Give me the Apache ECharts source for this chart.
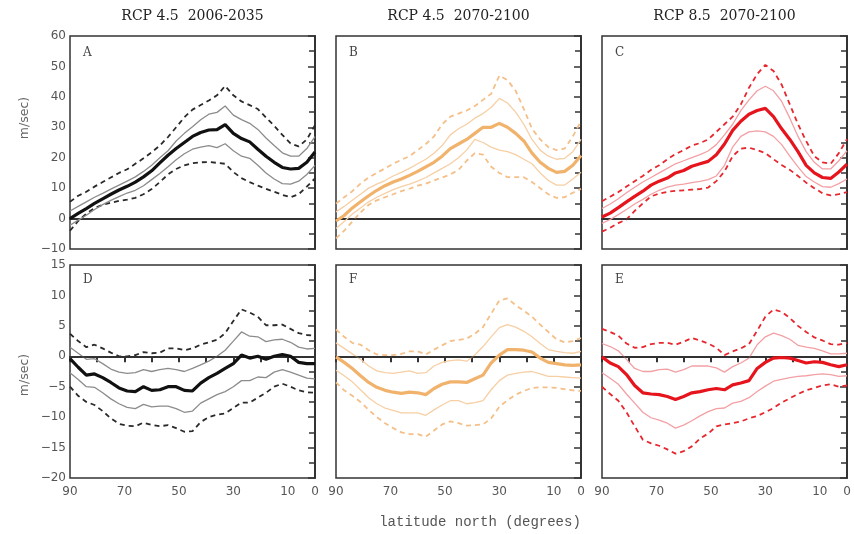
<!DOCTYPE html>
<html><head><meta charset="utf-8">
<script src="https://cdn.jsdelivr.net/npm/echarts@6/dist/echarts.min.js"></script>
<style>html,body{margin:0;padding:0;background:#fff}#c{width:854px;height:534px}</style>
</head><body><div id="c"></div><script>
// latitude (degrees north)
const lat = [90,87,84,81,78,75,72,69,66,63,60,57,54,51,48,45,42,39,36,33,30,27,24,21,18,15,12,9,6,3,0];
const xTickLabels = [90,70,50,30,10,0];
const titles = ['RCP 4.5  2006-2035','RCP 4.5  2070-2100','RCP 8.5  2070-2100'];
const panelLetters = ['A','B','C','D','F','E'];

// Panel A (RCP4.5 2006-2035, m/sec)
const aMean = [0,1.7,3.3,5,6.5,8,9.4,10.6,12,13.7,15.7,18.3,20.8,23,25,27,28.3,29.1,29.2,30.9,28,26.3,25.2,22.8,20.5,18.5,16.8,16.3,16.5,18.5,21.9];
const aUp   = [2.5,4,5.5,7,8.3,9.7,11,12.3,13.7,15.5,17.5,20,22.3,25.5,28,30.2,32.5,34.3,34.9,37,34,32.5,31.3,29.3,26.5,24,21.6,20.5,20.5,23,26.9];
const aLo   = [-2.2,-0.5,1.1,3,4.6,6,7.2,8.4,9.3,10.8,12.8,14.8,17,19.3,21.3,22.8,23.5,24,23.3,24.6,22.3,20.5,19.8,17.5,15,13,11.5,11.3,12.3,14.5,17.5];
const aUpD  = [5.5,7.5,8.8,10.5,12,13.5,15,16.2,18,19.8,21.8,24,26.8,30,33.3,35.8,37.3,38.8,40.5,43.6,40.5,38.5,37.3,36,33.2,30.5,27.5,24.7,23.7,26,30.7];
const aLoD  = [-4,-0.8,1.6,3.5,4.5,5.2,5.8,6.2,6.8,8,9.7,12,14.5,16.3,17.5,18.2,18.5,18.6,18.3,18,15.3,13.3,12,10.8,9.8,8.8,7.8,7,8,10.5,13.2];
// Panel B (RCP4.5 2070-2100)
const bMean = [-0.8,1,3.5,5.5,7.5,9.3,10.8,12,13,14.2,15.5,17,18.5,20.5,23,24.5,26,28,30,30,31.3,30,28,25.5,21.5,18.5,16.5,15.2,15.5,17.5,20.7];
const bUp   = [2.2,4,6,8,10,11.3,12.5,14,15.2,16.5,18,19.5,21.5,24,27.5,29.5,31,33,34.5,36.5,39.5,38,35,31,26,22.5,20.5,19.5,19.8,22,26];
const bLo   = [-3.3,-1,1.5,3.5,5.5,7,8.3,9.5,10.5,11.3,12.3,13.5,15,16.5,18,20,22.5,26,25,23.5,22.5,22,21,19.5,18,15,12.5,11,11,13,15.2];
const bUpD  = [4.9,7,9,11.5,13.5,15,16.5,18,19.3,20.5,22.5,24.5,27,31,33.5,34.5,35.5,37,39,41,47,45.5,42,36,29.5,26,23.5,22.5,23,27,32];
const bLoD  = [-6.5,-4,-1,2,4.5,6,7,8,9,9.8,10.8,11.5,12.5,13.5,14.5,16,19,21.5,21,17,15,13.6,13.6,13.6,12,10,8,6.8,7,8.5,9.8];
// Panel C (RCP8.5 2070-2100)
const cMean = [0.5,1.8,3.6,5.5,7.3,9,11,12.3,13.3,15,15.8,17.2,18,18.8,21,24.5,29,32,34.3,35.5,36.2,33.5,29.5,26,22,17.5,15,13.5,13.2,15.3,17.9];
const cUp   = [3.3,4.8,6.5,8.5,10.3,12,13.5,15,16.5,18,19,20,21,22.2,24.3,27.5,31,35.5,39,42,43.5,42,38.5,33,27,22,18.5,16.3,16.3,19,22.3];
const cLo   = [-1.6,-0.3,1.3,3,4.8,6.3,8,9.3,10.3,11,11.3,11.8,12.2,12.8,14,17.5,23.5,27,28.5,28.8,28.5,27,24.3,20.5,17,13.8,12,10.5,10.3,11.5,13];
const cUpD  = [5.7,7.2,8.7,10.5,12.3,14,16,17.5,19.5,21.2,22.5,24,24.8,26,28.5,31,33.5,37.5,43,47.5,50.5,48.5,44,37.5,31,25.5,20.5,18.5,18,21.5,26.1];
const cLoD  = [-4.3,-3,-1.5,-0.3,2.5,5,7.3,8.2,8.8,9.1,9.3,9.5,9.7,10.2,12.3,15.5,20.5,23,23.3,22.5,21.5,19.5,17.6,16,14,11.8,10,8.3,7.6,8,8.7];
// Panel D (change, RCP4.5 2006-2035)
const dMean = [-0.4,-1.8,-3.1,-2.9,-3.5,-4.3,-5.2,-5.7,-5.8,-5,-5.6,-5.5,-5,-5,-5.6,-5.7,-4.4,-3.5,-2.8,-2,-1.2,0.2,-0.3,0,-0.5,0,0.3,0,-1,-1.2,-1.2];
const dUp   = [1.5,0.5,-0.5,-0.4,-1.2,-2.1,-2.6,-2.8,-2.7,-2.2,-2.5,-2.2,-2,-2.2,-2.5,-2,-1.4,-0.8,0,1,2.5,4,3.3,3.2,2.4,2.7,2.8,2.3,1.5,1.2,1.3];
const dLo   = [-2.7,-3.8,-5,-5.1,-6,-7,-7.8,-8.4,-8.6,-7.9,-8.3,-8.2,-8.2,-8.6,-9.2,-9,-7.7,-7,-6.3,-5.8,-5,-4,-4,-3.4,-3.5,-2.6,-2.2,-2.6,-3.1,-3.6,-3.7];
const dUpD  = [3.7,2.5,1.5,1.9,1.3,0.6,0,0,0.2,0.7,0.5,0.6,1.3,1.3,1,1.3,1.9,2.3,2.7,3.8,5.8,7.7,7.2,6.5,5.1,5.1,5.2,4.5,3.8,3.5,3.4];
const dLoD  = [-5,-6.5,-7.5,-8,-9,-10.2,-11.1,-11.4,-11.5,-10.9,-11.3,-11.5,-11.3,-11.8,-12.4,-12.3,-10.8,-10,-9.6,-9.4,-8.5,-7.6,-7.6,-6.8,-6,-5,-4.5,-5,-5.6,-5.9,-6];
// Panel F (change, RCP4.5 2070-2100)
const fMean = [-0.1,-1,-2,-3.2,-4.3,-5.1,-5.6,-5.9,-6.1,-5.9,-6,-6.3,-5.3,-4.6,-4.2,-4.2,-4.3,-3.7,-3.1,-1.1,0.2,1.1,1.1,1,0.7,-0.3,-1,-1.2,-1.4,-1.5,-1.4];
const fUp   = [2.2,1.3,0.4,-0.5,-1.6,-2.4,-2.7,-2.8,-2.6,-2.4,-2.8,-2.7,-1.6,-1,-0.7,-0.6,-0.8,0.2,1.6,3.2,4.7,5.2,4.8,4.1,3.2,2.1,1.1,0.8,0.6,0.5,0.8];
const fLo   = [-2.3,-3.2,-4.2,-5.5,-6.8,-7.8,-8.5,-8.9,-9.3,-9.3,-9.3,-9.7,-8.8,-8,-7.3,-7.3,-7.8,-7.6,-7.3,-5.5,-4,-3.1,-2.8,-2.6,-2.5,-2.9,-3.3,-3.3,-3.4,-3.5,-3.6];
const fUpD  = [4.4,3.2,2.2,1.9,1,0.3,0.2,0.2,0.4,0.8,0.8,0.3,1.1,1.8,2.5,2.7,2.9,3.7,4.8,7,9.2,9.5,8.4,7.5,6.5,5.2,4,2.8,2.3,2.5,3];
const fLoD  = [-4.3,-5.6,-6.5,-7.5,-8.8,-10,-11,-11.8,-12.5,-12.8,-12.8,-13.2,-12.2,-11.2,-10.7,-11,-11.4,-11.3,-11.2,-10.2,-8.3,-7.2,-6.3,-5.7,-5.2,-5.1,-5.1,-5.2,-5.4,-5.6,-5.7];
// Panel E (change, RCP8.5 2070-2100)
const eMean = [-0.1,-1.1,-1.7,-3,-4.8,-6,-6.2,-6.3,-6.6,-7.1,-6.6,-6,-5.8,-5.5,-5.3,-5.5,-4.7,-4.4,-4,-2,-1,-0.3,-0.2,-0.3,-0.7,-1.1,-0.9,-1,-1.4,-1.7,-1.4];
const eUp   = [2.1,1.6,0.9,-0.5,-2,-2.5,-2.5,-2.2,-2.1,-2.6,-2.2,-1.6,-1.6,-1.6,-1.9,-2.6,-1.7,-1.1,-0.3,1.9,3.2,3.8,3.4,2.8,1.8,1.5,1.3,0.9,0.4,0.4,0.5];
const eLo   = [-2.7,-3.6,-4.6,-6.2,-7.7,-9.2,-10.1,-10.5,-11,-11.8,-11.3,-10.6,-9.8,-9.1,-8.6,-8.5,-7.7,-7.4,-6.8,-5.8,-4.9,-4.1,-3.8,-3.5,-3.3,-3.2,-3,-2.9,-3,-3.3,-3.2];
const eUpD  = [4.5,4,3.4,2.1,1.4,1.5,2,2.2,2.2,1.9,2.4,3,2.6,2.1,1.4,0.2,0.8,1.3,2,4.2,6.5,7.7,7.3,6.3,5,4,3.1,2.6,2,1.9,2.2];
const eLoD  = [-5,-6.2,-7.3,-9.2,-11.5,-13.7,-14.3,-14.7,-15.3,-16,-15.6,-14.8,-13.5,-12.7,-11.5,-11.2,-11,-10.7,-10.2,-9.8,-9.2,-8.5,-7.6,-6.9,-6.2,-5.6,-5.2,-4.8,-4.6,-5,-4.8];

const panels = [
  {set:[aMean,aUp,aLo,aUpD,aLoD], pal:'k', top:true},
  {set:[bMean,bUp,bLo,bUpD,bLoD], pal:'o', top:true},
  {set:[cMean,cUp,cLo,cUpD,cLoD], pal:'r', top:true},
  {set:[dMean,dUp,dLo,dUpD,dLoD], pal:'k', top:false},
  {set:[fMean,fUp,fLo,fUpD,fLoD], pal:'o', top:false},
  {set:[eMean,eUp,eLo,eUpD,eLoD], pal:'r', top:false}
];
const palettes = {
  k:{mean:'#111111', thin:'#8c8c8c', dash:'#2a2a2a'},
  o:{mean:'#f1b26c', thin:'#f7cfa4', dash:'#f5bf88'},
  r:{mean:'#e6141c', thin:'#f3a0a5', dash:'#e8262d'}
};
const lefts = [70,336,602];
const axisColor = '#333';
const labelColor = '#555';
const grids=[], xAxes=[], yAxes=[], series=[];
panels.forEach((p,i)=>{
  const col=i%3;
  grids.push({left:lefts[col], width:245, top:p.top?36:265, height:213,
    show:true, borderColor:axisColor, borderWidth:1.5, containLabel:false});
  xAxes.push({gridIndex:i, type:'value', min:0, max:90, interval:10, inverse:true,
    axisLine:{show:true, lineStyle:{color:axisColor, width:2}},
    axisTick:{show:!p.top, length:6, lineStyle:{color:axisColor, width:2}},
    axisLabel:{show:!p.top, color:labelColor, fontFamily:'DejaVu Sans', fontSize:12, margin:8,
      formatter:v=>xTickLabels.includes(v)?String(v):''},
    splitLine:{show:false}});
  yAxes.push({gridIndex:i, type:'value',
    min:p.top?-10:-20, max:p.top?60:15, interval:p.top?10:5,
    axisLine:{show:true, lineStyle:{color:axisColor, width:2}},
    axisTick:{show:true, length:7, lineStyle:{color:axisColor, width:1.5}},
    minorTick:{show:true, splitNumber:2, length:6, lineStyle:{color:axisColor, width:1.5}},
    axisLabel:{show:col===0, color:labelColor, fontFamily:'DejaVu Sans', fontSize:12, margin:4,
      formatter:v=>String(v).replace('-','\u2212')},
    splitLine:{show:false}, minorSplitLine:{show:false}});
  const pal = palettes[p.pal];
  const styles = [
    {color:pal.mean, width:3.2, type:'solid'},
    {color:pal.thin, width:1.3, type:'solid'},
    {color:pal.thin, width:1.3, type:'solid'},
    {color:pal.dash, width:1.8, type:[5,4]},
    {color:pal.dash, width:1.8, type:[5,4]}
  ];
  const order=[3,4,1,2,0];
  order.forEach((k,j)=>{
    const s={type:'line', xAxisIndex:i, yAxisIndex:i, showSymbol:false, symbol:'none',
      silent:true, animation:false, z:2+j,
      data:lat.map((x,n)=>[x,p.set[k][n]]),
      lineStyle:styles[k]};
    if(j===order.length-1){
      s.markLine={silent:true, symbol:'none', label:{show:false}, animation:false,
        lineStyle:{color:axisColor, width:1.5, type:'solid'}, data:[{yAxis:0}]};
    }
    series.push(s);
  });
});
const graphics=[];
const centers=[192.5,458.5,724.5];
titles.forEach((t,i)=>graphics.push({type:'text', x:centers[i], y:16,
  style:{text:t, font:'14px "DejaVu Serif"', fill:'#222', align:'center', verticalAlign:'middle'}}));
panelLetters.forEach((L,i)=>{
  const col=i%3, top=i<3;
  graphics.push({type:'text', x:lefts[col]+13, y:top?53:280,
    style:{text:L, font:'12px "DejaVu Serif"', fill:'#444', align:'left', verticalAlign:'middle'}});
});
graphics.push({type:'text', x:25, y:118, rotation:Math.PI/2,
  style:{text:'m/sec)', font:'12.5px "DejaVu Sans"', fill:'#666', align:'center', verticalAlign:'middle'}});
graphics.push({type:'text', x:25, y:375, rotation:Math.PI/2,
  style:{text:'m/sec)', font:'12.5px "DejaVu Sans"', fill:'#666', align:'center', verticalAlign:'middle'}});
graphics.push({type:'text', x:480, y:522,
  style:{text:'latitude north (degrees)', font:'14px "Liberation Mono"', fill:'#555', align:'center', verticalAlign:'middle'}});

const chart = echarts.init(document.getElementById('c'), null, {renderer:'canvas'});
chart.setOption({animation:false, backgroundColor:'#fff', grid:grids, xAxis:xAxes, yAxis:yAxes, series:series, graphic:graphics});
</script></body></html>
